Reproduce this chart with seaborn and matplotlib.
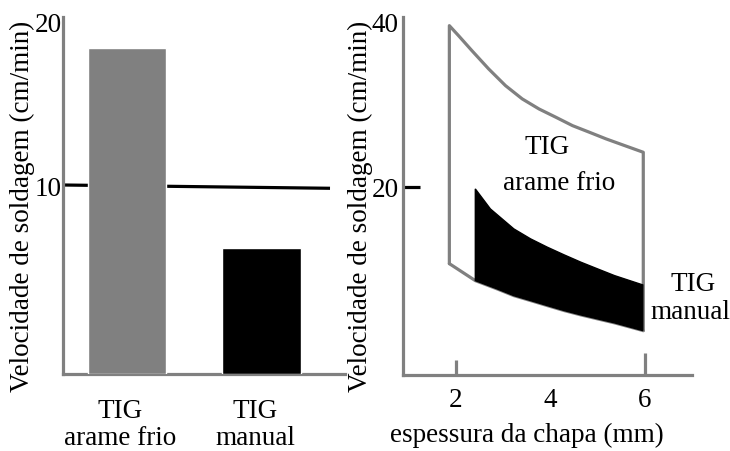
import numpy as np
import pandas as pd
import matplotlib
matplotlib.use("Agg")
import matplotlib.pyplot as plt
import matplotlib.transforms as mtrans
import seaborn as sns

# ---- data ----
processes = ["TIG\narame frio", "TIG\nmanual"]
speeds = [18.4, 6.2]
bar_colors = ["#808080", "#000000"]
ref_line_y = [10.06, 9.86]

# cold wire TIG envelope (grey outline)
cold_up_x = [1.87, 2.064, 2.347, 2.702, 3.057, 3.411, 3.766, 4.121, 4.474,
             4.830, 5.185, 5.538, 5.97]
cold_upper = [39.55, 38.34, 36.52, 34.30, 32.28, 30.67, 29.45, 28.45, 27.43,
              26.63, 25.82, 25.09, 24.2]
cold_lo_x = [1.87, 2.419, 2.879, 3.234, 3.589, 3.943, 4.298, 4.653, 5.006,
             5.362, 5.97]
cold_lower = [10.7, 8.64, 7.64, 6.82, 6.22, 5.61, 5.01, 4.48, 4.00, 3.52, 2.58]

# manual TIG band (black fill)
man_up_x = [2.419, 2.738, 3.234, 3.589, 3.943, 4.298, 4.653, 5.006, 5.362,
            5.96]
man_upper = [19.76, 17.33, 14.91, 13.70, 12.69, 11.76, 10.87, 10.06, 9.25,
             8.12]
man_lo_x = [2.419, 2.879, 3.234, 3.589, 3.943, 4.298, 4.653, 5.006, 5.362,
            5.96]
man_lower = [8.64, 7.64, 6.82, 6.22, 5.61, 5.01, 4.48, 4.00, 3.52, 2.58]

left_yticks = [10, 20]
right_yticks = [20, 40]
right_xticks = [2, 4, 6]

sns.set_style("white")
plt.rcParams["font.family"] = ["Liberation Serif", "DejaVu Serif"]
plt.rcParams["text.color"] = "black"
plt.rcParams["xtick.color"] = "black"
plt.rcParams["ytick.color"] = "black"
plt.rcParams["axes.labelcolor"] = "black"
FS = 19.5
GREY = "#808080"
W = 730
H = 452

fig = plt.figure(figsize=(7.3, 4.52), dpi=100)
axL = fig.add_axes([63 / W, 1 - 375 / H, (345 - 63) / W, (375 - 18) / H])
axR = fig.add_axes([403 / W, 1 - 376 / H, (692 - 403) / W, (376 - 18) / H])

for ax in (axL, axR):
    for s in ("top", "right"):
        ax.spines[s].set_visible(False)
    for s in ("left", "bottom"):
        ax.spines[s].set_color(GREY)
        ax.spines[s].set_linewidth(2.3)

# ---------------- left panel ----------------
yminL, ymaxL = -1.46, 20.3
xminL, xmaxL = -0.474, 1.615
base = yminL
df = pd.DataFrame({"proc": processes, "h": np.array(speeds) - base})
sns.barplot(data=df, x="proc", y="h", hue="proc", palette=bar_colors,
            width=0.585, bottom=base, ax=axL, legend=False, saturation=1,
            zorder=3)
axL.plot([xminL, 1.504], ref_line_y, color="black", lw=2.3, zorder=2,
         solid_capstyle="butt")
axL.set_xlim(xminL, xmaxL)
axL.set_ylim(yminL, ymaxL)
axL.set_yticks(left_yticks)
axL.set_yticklabels([str(v) for v in left_yticks], fontsize=FS)
axL.tick_params(axis="y", left=True, length=0, pad=1)
axL.set_xticks([0, 1])
axL.set_xticklabels(processes, fontsize=FS, linespacing=1.1)
axL.tick_params(axis="x", bottom=True, length=0, pad=17)
off = mtrans.ScaledTranslation(-7 / 100, 0, fig.dpi_scale_trans)
for lab in axL.get_xticklabels():
    lab.set_transform(lab.get_transform() + off)
axL.set_xlabel("")
axL.set_ylabel("Velocidade de soldagem (cm/min)", fontsize=FS,
               va="center", ha="center")
axL.yaxis.set_label_coords(22 / W, 1 - 206 / H, transform=fig.transFigure)

# ---------------- right panel ----------------
sns.lineplot(x=[cold_lo_x[0]] + cold_up_x + [cold_up_x[-1]],
             y=[cold_lower[0]] + cold_upper + [cold_lower[-1]],
             sort=False, estimator=None, color=GREY, lw=2.3, ax=axR)
sns.lineplot(x=cold_lo_x, y=cold_lower, sort=False, estimator=None,
             color=GREY, lw=2.3, ax=axR)
axR.fill(man_up_x + man_lo_x[::-1], man_upper + man_lower[::-1],
         facecolor="black", edgecolor="black", lw=1.0, zorder=3)
axR.set_xlim(0.89, 7.0)
axR.set_ylim(-2.8, 40.6)
axR.set_xticks(right_xticks)
axR.set_xticklabels([str(v) for v in right_xticks], fontsize=FS)
axR.tick_params(axis="x", bottom=True, direction="in", length=11, width=2.3,
                color=GREY, pad=9)
xt = axR.xaxis.get_major_ticks()
xt[1].tick1line.set_visible(False)
xt[2].tick1line.set_markersize(16)
axR.set_yticks(right_yticks)
axR.set_yticklabels([str(v) for v in right_yticks], fontsize=FS)
axR.tick_params(axis="y", left=True, direction="in", length=12, width=2.3,
                color="black", pad=3)
axR.yaxis.get_major_ticks()[1].tick1line.set_visible(False)
axR.set_xlabel("espessura da chapa (mm)", fontsize=FS, va="center")
axR.xaxis.set_label_coords(527 / W, 1 - 435 / H, transform=fig.transFigure)
axR.set_ylabel("Velocidade de soldagem (cm/min)", fontsize=FS,
               va="center", ha="center")
axR.yaxis.set_label_coords(360 / W, 1 - 206 / H, transform=fig.transFigure)

axR.text(3.94, 24.85, "TIG", fontsize=FS, ha="center", va="center")
axR.text(4.19, 20.5, "arame frio", fontsize=FS, ha="center", va="center")
axR.text(7.02, 8.24, "TIG", fontsize=FS, ha="center", va="center",
         clip_on=False)
axR.text(6.96, 4.85, "manual", fontsize=FS, ha="center", va="center",
         clip_on=False)

fig.savefig("out.png", dpi=100, facecolor="white")
